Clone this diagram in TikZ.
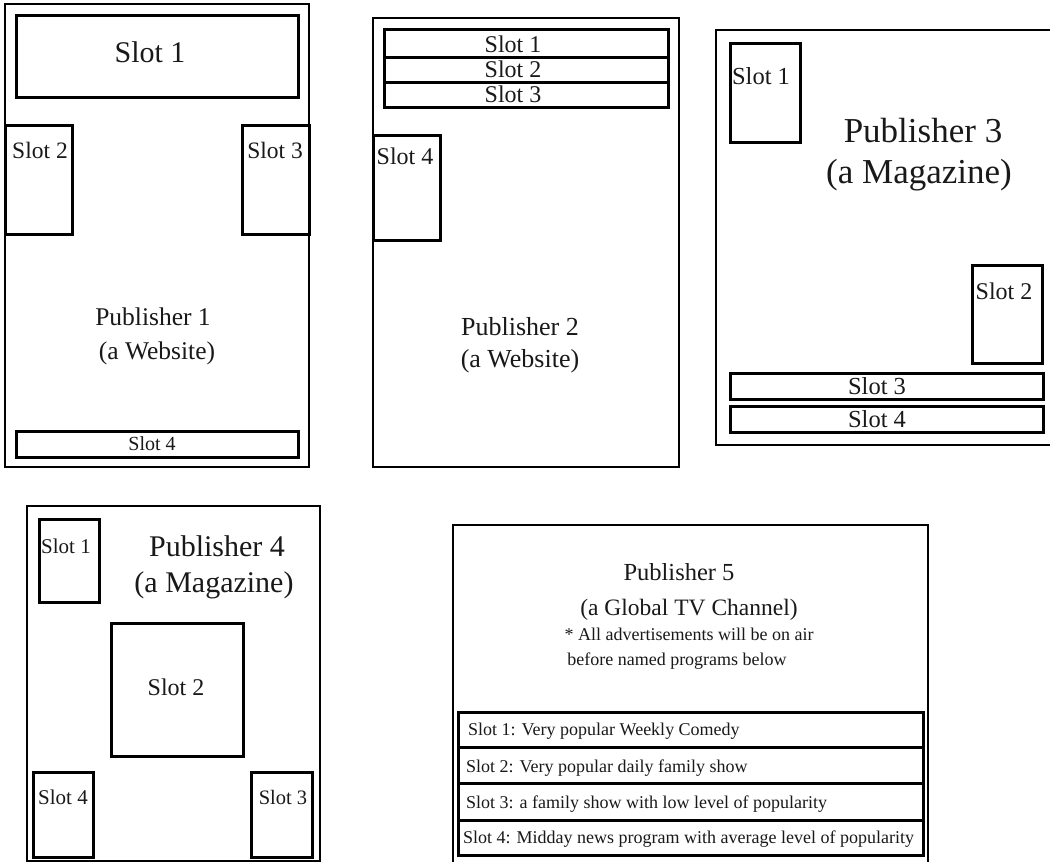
\documentclass[tikz,border=0pt]{standalone}
\usepackage{fontspec}
\setmainfont{Liberation Serif}
\newcommand{\fsz}[1]{\fontsize{#1}{#1}\selectfont}
\tikzset{
  frame/.style={draw=black, line width=2.8},
  slotbox/.style={draw=black, line width=3.0},
  lab/.style={inner sep=0pt, anchor=base, text=black!90},
  labw/.style={inner sep=0pt, anchor=base west, text=black!90},
}
\begin{document}
\begin{tikzpicture}[x=1pt,y=-1pt]
\useasboundingbox (0,0) rectangle (1050,862);
\fill[white] (0,0) rectangle (1050,862);

% ---------- Publisher 1 ----------
\draw[frame] (5,4) rectangle (309,467);
\draw[slotbox] (16,15) rectangle (298,97);
\draw[slotbox] (5,125) rectangle (72,234);
\draw[slotbox] (242,125) rectangle (309,234);
\draw[slotbox] (16,431) rectangle (298,457);
\node[lab, font=\fsz{30}] (p1s1) at (150,62) {Slot 1};
\node[lab, font=\fsz{23.5}] (p1s2) at (40,158) {Slot 2};
\node[lab, font=\fsz{23.5}] (p1s3) at (275,158) {Slot 3};
\node[lab, font=\fsz{20}] (p1s4) at (152,450) {Slot 4};
\node[lab, font=\fsz{25.5}] (p1t1) at (153,325) {Publisher 1};
\node[lab, font=\fsz{25.5}] (p1t2) at (157,359) {(a Website)};

% ---------- Publisher 2 ----------
\draw[frame] (373,18) rectangle (679,467);
\draw[slotbox] (384,29) rectangle (668,57);
\draw[slotbox] (384,57) rectangle (668,82);
\draw[slotbox] (384,82) rectangle (668,107);
\draw[slotbox] (373,135) rectangle (440,240);
\node[lab, font=\fsz{24}] (p2s1) at (513,52) {Slot 1};
\node[lab, font=\fsz{24}] (p2s2) at (513,77) {Slot 2};
\node[lab, font=\fsz{24}] (p2s3) at (513,102) {Slot 3};
\node[lab, font=\fsz{24}] (p2s4) at (405,164) {Slot 4};
\node[lab, font=\fsz{26}] (p2t1) at (520,335) {Publisher 2};
\node[lab, font=\fsz{26}] (p2t2) at (520,367) {(a Website)};

% ---------- Publisher 3 ----------
\draw[frame] (716,30) rectangle (1058,445);
\draw[slotbox] (730,43) rectangle (800,142);
\draw[slotbox] (972,265) rectangle (1042,363);
\draw[slotbox] (730,373) rectangle (1043,399);
\draw[slotbox] (730,406) rectangle (1043,432);
\node[lab, font=\fsz{24.5}] (p3s1) at (761,84) {Slot 1};
\node[lab, font=\fsz{24}] (p3s2) at (1004,299) {Slot 2};
\node[lab, font=\fsz{24.5}] (p3s3) at (877,394) {Slot 3};
\node[lab, font=\fsz{24.5}] (p3s4) at (877,427) {Slot 4};
\node[lab, font=\fsz{35}] (p3t1) at (923,142) {Publisher 3};
\node[lab, font=\fsz{35}] (p3t2) at (919,183) {(a Magazine)};

% ---------- Publisher 4 ----------
\draw[frame] (27,506) rectangle (320,861);
\draw[slotbox] (39,519) rectangle (99,602);
\draw[slotbox] (111,623) rectangle (243,756);
\draw[slotbox] (33,772) rectangle (93,857);
\draw[slotbox] (251,772) rectangle (312,857);
\node[lab, font=\fsz{21}] (p4s1) at (66,553) {Slot 1};
\node[lab, font=\fsz{24}] (p4s2) at (176,695) {Slot 2};
\node[lab, font=\fsz{21}] (p4s4) at (63,804) {Slot 4};
\node[lab, font=\fsz{20.5}] (p4s3) at (283,804) {Slot 3};
\node[lab, font=\fsz{30}] (p4t1) at (217,556) {Publisher 4};
\node[lab, font=\fsz{30}] (p4t2) at (214,592) {(a Magazine)};

% ---------- Publisher 5 ----------
\draw[frame] (453,525) rectangle (928,870);
\draw[slotbox] (458,712) rectangle (923,747);
\draw[slotbox] (458,747) rectangle (923,783);
\draw[slotbox] (458,783) rectangle (923,820);
\draw[slotbox] (458,820) rectangle (923,855);
\node[lab, font=\fsz{24.5}] (p5t1) at (679,580) {Publisher 5};
\node[lab, font=\fsz{23.5}] (p5t2) at (689,615) {(a Global TV Channel)};
\node[lab, font=\fsz{18}] (p5t3) at (689,640) {* All advertisements will be on air};
\node[lab, font=\fsz{18}] (p5t4) at (677,665) {before named programs below};
\node[labw, font=\fsz{18}] (p5r1) at (468,735) {Slot 1: Very popular Weekly Comedy};
\node[labw, font=\fsz{18}] (p5r2) at (466,772) {Slot 2: Very popular daily family show};
\node[labw, font=\fsz{18}] (p5r3) at (466,808) {Slot 3: a family show with low level of popularity};
\node[labw, font=\fsz{18}] (p5r4) at (463,843) {Slot 4: Midday news program with average level of popularity};
\end{tikzpicture}
\end{document}
